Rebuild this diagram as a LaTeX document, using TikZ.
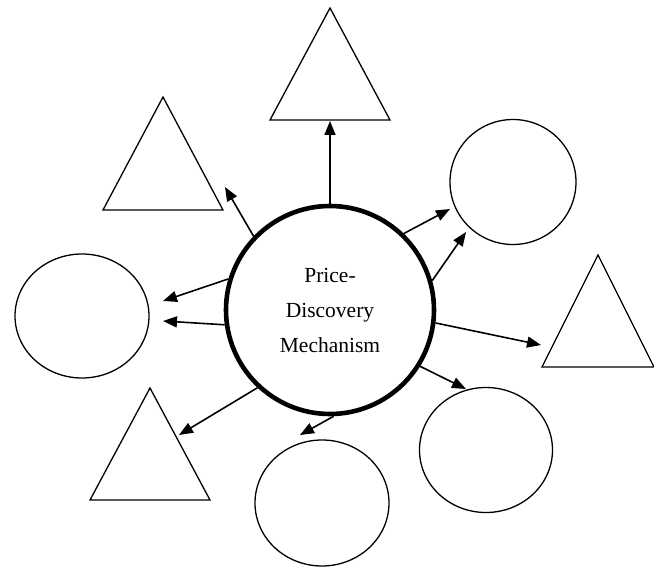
\documentclass[tikz,border=0pt]{standalone}
\usepackage{fontspec}
\setmainfont{Liberation Serif}
\usetikzlibrary{arrows.meta,shapes.geometric}

\tikzset{
  hubshape/.style={circle, draw, line width=4.6pt, minimum size=208pt, inner sep=0pt,
    align=center, font=\fontsize{21.5}{35}\selectfont},
  blob/.style={ellipse, draw, line width=1.3pt, inner sep=0pt},
  tri/.style={draw, line width=1.3pt, line join=miter},
  link/.style={line width=1.6pt, -{Triangle[length=14pt,width=11pt]}}
}

% isosceles triangle: apex x, apex y, half base, height
\newcommand{\trishape}[5]{%
  \draw[tri] (#2,#3) -- (#2+#4,#3+#5) -- (#2-#4,#3+#5) -- cycle;
  \coordinate (#1) at (#2,#3+#5*0.66);
}

\begin{document}
\begin{tikzpicture}[x=1pt,y=-1pt]
  \useasboundingbox (0,0) rectangle (654,567);

  % central hub
  \node[hubshape] (hub) at (330,310) {Price-\\Discovery\\Mechanism};

  % outer circles
  \node[blob, minimum width=126pt, minimum height=125pt] (cNE) at (513,182) {};
  \node[blob, minimum width=134pt, minimum height=124pt] (cW)  at (82,316) {};
  \node[blob, minimum width=133pt, minimum height=125pt] (cSE) at (486,450) {};
  \node[blob, minimum width=134pt, minimum height=126pt] (cS)  at (322,503) {};

  % outer triangles
  \trishape{tN}{330}{8}{60}{112}
  \trishape{tNW}{163}{97}{60}{113}
  \trishape{tE}{598}{255}{56}{112}
  \trishape{tSW}{150}{388}{60}{112}

  % arrow tips
  \coordinate (pN)   at (330,121);
  \coordinate (pNW)  at (225,187);
  \coordinate (pNE1) at (450,209);
  \coordinate (pNE2) at (466,232);
  \coordinate (pW1)  at (163,301);
  \coordinate (pW2)  at (163,321);
  \coordinate (pE)   at (541,345);
  \coordinate (pSE)  at (466,389);
  \coordinate (pSW)  at (179,435);
  \coordinate (pS)   at (300,435);

  % connectors
  \draw[link] (hub.90)   -- (pN);
  \draw[link] (hub.136)  -- (pNW);
  \draw[link] (hub.46)   -- (pNE1);
  \draw[link] (hub.16)   -- (pNE2);
  \draw[link] (hub.163)  -- (pW1);
  \draw[link] (hub.188)  -- (pW2);
  \draw[link] (hub.-7)   -- (pE);
  \draw[link] (hub.-32)  -- (pSE);
  \draw[link] (hub.-133) -- (pSW);
  \draw[link] (hub.-88)  -- (pS);
\end{tikzpicture}
\end{document}
